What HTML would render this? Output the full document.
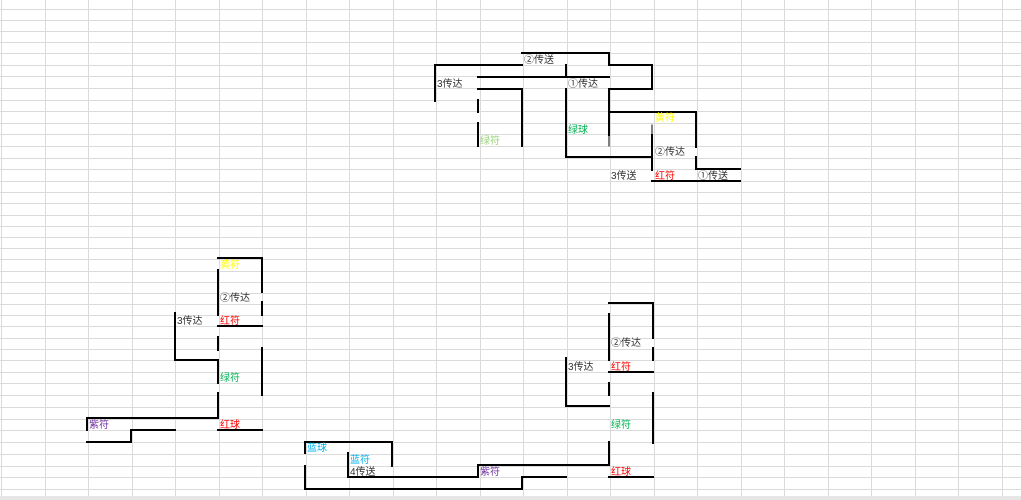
<!DOCTYPE html>
<html><head><meta charset="utf-8"><style>
html,body{margin:0;padding:0;background:#fff;width:1021px;height:500px;overflow:hidden}
svg{display:block}
text{font-family:"Liberation Sans","Noto Sans CJK SC",sans-serif;font-size:10px;fill:#333}
</style></head><body>
<svg width="1021" height="500" viewBox="0 0 1021 500" xmlns="http://www.w3.org/2000/svg">
<g stroke="#dadada" stroke-width="1" id="grid"></g>
<script>
var g=document.getElementById('grid'),ns='http://www.w3.org/2000/svg';
function L(x1,y1,x2,y2){var l=document.createElementNS(ns,'line');l.setAttribute('x1',x1);l.setAttribute('y1',y1);l.setAttribute('x2',x2);l.setAttribute('y2',y2);g.appendChild(l);}
for(var c=0;c<24;c++){var x=Math.round(1+43.5*c)+0.5;L(x,0,x,497);}
var ys=[];for(var i=0;i<=4;i++)ys.push(9+11*i);
for(i=1;i<=11;i++)ys.push(53+128/11*i);
for(i=1;i<=16;i++)ys.push(181+179/16*i);
for(i=1;i<=11;i++)ys.push(360+129/11*i);
ys.forEach(function(y){y=Math.round(y)+0.5;L(0,y,1021,y);});
</script>
<rect x="0" y="496" width="1021" height="4" fill="#e6e6e6"/>
<g stroke="#000" stroke-width="2" fill="none" stroke-linecap="square">
<!-- top section -->
<path d="M522 53H609V65H652V89H609V135"/>
<path d="M609 135V147" stroke-dasharray="1,1" stroke-width="1"/>
<path d="M609 112H696V147M696 157V169H740M652 181H740"/>
<path d="M652 125V135" stroke-dasharray="1,1" stroke-width="1"/>
<path d="M652 135V170M566 89V157H652M566 65V77M478 77H609"/>
<path d="M435 101V65H522M478 89H522V146M478 100V112M478 123V146"/>
<!-- bottom left -->
<path d="M218 258H262V292M262 302V315M262 348V395"/>
<path d="M218 270V315M218 337V350M218 360V383M218 393V418H87V430M131 430H175M131 430V442H87"/>
<path d="M218 326H262M175 313V360H218M218 430H262"/>
<!-- bottom right -->
<path d="M609 303H653V338M653 348V360M653 393V443"/>
<path d="M609 314V360M609 383V395M609 442V465H478V477H348V453"/>
<path d="M609 372H653M566 358V406H609M609 477H653M522 477H566"/>
<path d="M305 453V442H392V466M305 466V489H522V477"/>
</g>
<g>
<text x="524" y="63">②传送</text>
<text x="437" y="87">3传达</text>
<text x="568" y="87">①传达</text>
<text x="480" y="144" style="fill:#9bd27a">绿符</text>
<text x="568" y="133" style="fill:#00b050">绿球</text>
<text x="655" y="121" style="fill:#ffff00">黄符</text>
<text x="655" y="155">②传达</text>
<text x="611" y="179">3传送</text>
<text x="655" y="179" style="fill:#ff0000">红符</text>
<text x="698" y="179">①传送</text>

<text x="220" y="268" style="fill:#ffff00">黄符</text>
<text x="220" y="301">②传达</text>
<text x="177" y="324">3传达</text>
<text x="220" y="324" style="fill:#ff0000">红符</text>
<text x="220" y="381" style="fill:#00b050">绿符</text>
<text x="89" y="428" style="fill:#7030a0">紫符</text>
<text x="220" y="428" style="fill:#ff0000">红球</text>

<text x="611" y="346">②传达</text>
<text x="568" y="370">3传达</text>
<text x="611" y="370" style="fill:#ff0000">红符</text>
<text x="611" y="428" style="fill:#00b050">绿符</text>
<text x="307" y="451" style="fill:#00b0f0">蓝球</text>
<text x="350" y="463" style="fill:#00b0f0">蓝符</text>
<text x="350" y="475">4传送</text>
<text x="480" y="475" style="fill:#7030a0">紫符</text>
<text x="611" y="475" style="fill:#ff0000">红球</text>
</g>
</svg>
</body></html>
